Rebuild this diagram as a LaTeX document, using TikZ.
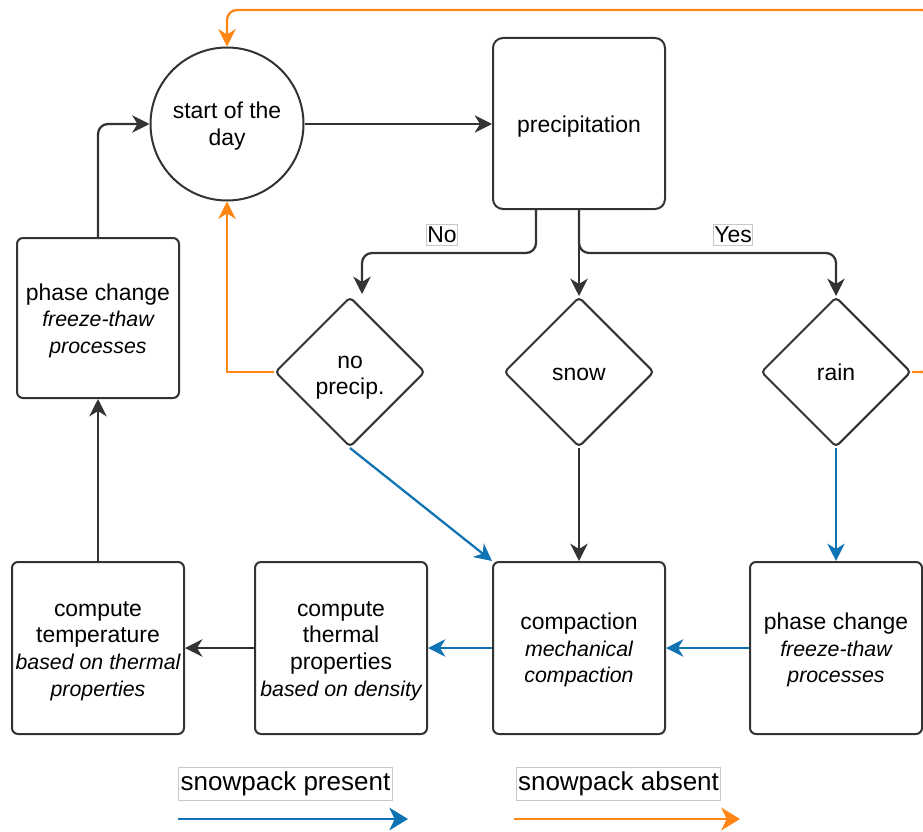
\documentclass[tikz,border=0pt]{standalone}
\usepackage{fontspec}
\setmainfont{Liberation Sans}
\usetikzlibrary{arrows.meta,shapes.geometric,calc}
\definecolor{dk}{RGB}{51,51,51}
\definecolor{bl}{RGB}{16,115,180}
\definecolor{og}{RGB}{255,133,20}
\definecolor{lb}{RGB}{200,200,200}
\newcommand{\subtxt}[1]{{\fontsize{16}{20}\selectfont\itshape #1}}
\newcommand{\lowered}[2]{\raisebox{-#1}[\height][\depth]{\begin{tabular}{@{}c@{}}#2\end{tabular}}}
\begin{document}
\begin{tikzpicture}[x=0.75pt,y=-0.75pt,
  txt/.style={font=\fontsize{17.2}{20}\selectfont, align=center, text=black},
  circ/.style={txt, circle, draw=dk, line width=1.5pt, fill=white, minimum size=114.75pt, inner sep=0pt},
  pbox/.style={txt, rectangle, draw=dk, line width=1.5pt, fill=white, rounded corners=7.5pt, minimum width=129pt, minimum height=128.25pt, inner sep=1pt},
  sbox/.style={txt, rectangle, draw=dk, line width=1.5pt, fill=white, rounded corners=4.5pt, minimum width=129pt, minimum height=129pt, inner sep=1pt},
  dia/.style={txt, diamond, draw=dk, line width=1.5pt, fill=white, rounded corners=3pt, minimum width=112.5pt, minimum height=112.5pt, inner sep=0pt},
  lab/.style={txt, draw=lb, line width=0.6pt, fill=white, inner xsep=0.6pt, inner ysep=2pt},
  leg/.style={font=\fontsize{19.5}{22}\selectfont, draw=lb, line width=0.8pt, fill=white, inner xsep=1.5pt, inner ysep=2pt, minimum height=25pt},
  arr/.style={line width=1.7pt, -{Stealth[length=13pt, width=13pt, inset=4pt]}},
  legarr/.style={line width=2.2pt, -{Stealth[length=14pt, width=17pt, inset=4pt]}}
]
\useasboundingbox (0,0) rectangle (923,831);

% nodes
\node[circ] (start) at (227,124) {\lowered{2pt}{start of the\\day}};
\node[pbox] (precip) at (579,123.5) {\lowered{2.5pt}{precipitation}};
\node[dia] (noprec) at (350,372) {\lowered{3pt}{no\\precip.}};
\node[dia] (snow) at (579,372) {\lowered{2pt}{snow}};
\node[dia] (rain) at (836,372) {rain};
\node[sbox, minimum width=121.5pt, minimum height=120pt] (phaseL) at (98,318) {\lowered{2.5pt}{phase change\\\subtxt{freeze-thaw}\\\subtxt{processes}}};
\node[sbox] (temp) at (98,648) {\lowered{2pt}{compute\\temperature\\\subtxt{based on thermal}\\\subtxt{properties}}};
\node[sbox] (thermal) at (341,648) {\lowered{2pt}{compute\\thermal\\properties\\\subtxt{based on density}}};
\node[sbox] (compaction) at (579,648) {\lowered{2.2pt}{compaction\\\subtxt{mechanical}\\\subtxt{compaction}}};
\node[sbox] (phaseR) at (836,648) {\lowered{2.2pt}{phase change\\\subtxt{freeze-thaw}\\\subtxt{processes}}};

% helper coordinates
\coordinate (noSrc) at ($(precip.south)+(-43,0)$);
\coordinate (noEnd) at ($(noprec.north)+(12,-2)$);
\coordinate (rt) at (932,372);
\coordinate (tp) at (932,10);

% dark connectors
\draw[arr, dk] (start.east) -- (start.east -| precip.west);
\draw[arr, dk, rounded corners=7.5pt] (noSrc) -- ++(0,43) -| (noEnd);
\draw[arr, dk] (precip.south) -- (snow.north);
\draw[arr, dk, rounded corners=7.5pt] (precip.south) |- ++(60,43) -| (rain.north);
\draw[arr, dk] (snow.south) -- (compaction.north);
\draw[arr, dk] (thermal.west) -- (temp.east);
\draw[arr, dk] (temp.north) -- (phaseL.south);
\draw[arr, dk, rounded corners=7.5pt] (phaseL.north) |- (start.west);

% blue connectors
\draw[arr, bl] (noprec.south) -- (compaction.north west);
\draw[arr, bl] (rain.south) -- (phaseR.north);
\draw[arr, bl] (phaseR.west) -- (compaction.east);
\draw[arr, bl] (compaction.west) -- (thermal.east);

% orange connectors
\draw[arr, og] (noprec.west) -| (start.south);
\draw[arr, og, rounded corners=7.5pt] (rain.east) -- (rt) -- (tp) -| (start.north);

% branch labels
\node[lab] (lno) at (442,235) {No};
\node[lab] (lyes) at (733,235) {Yes};

% legend
\node[leg] (lp) at (285.5,784) {snowpack present};
\node[leg] (la) at (618.5,784) {snowpack absent};
\coordinate (lpa) at (178,819);
\coordinate (lpb) at (408,819);
\coordinate (laa) at (514,819);
\coordinate (lab) at (740,819);
\draw[legarr, bl] (lpa) -- (lpb);
\draw[legarr, og] (laa) -- (lab);
\end{tikzpicture}
\end{document}
